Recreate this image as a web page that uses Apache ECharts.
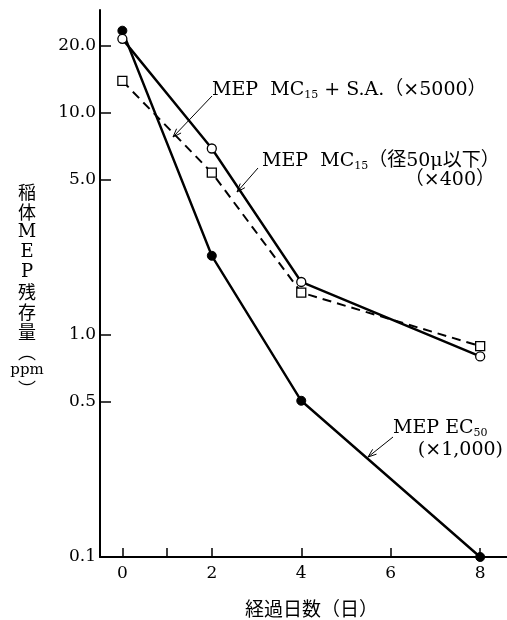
<!DOCTYPE html>
<html>
<head>
<meta charset="utf-8">
<script src="https://cdn.jsdelivr.net/npm/echarts@6/dist/echarts.min.js"></script>
<style>
  html, body { margin: 0; padding: 0; background: #fff; }
  #chart { width: 507px; height: 620px; }
</style>
</head>
<body>
<div id="chart"></div>
<script>
// days after treatment
var days = [0, 2, 4, 8];
// MEP EC50 (x1,000) - filled circles
var ec50 = [23.4, 2.27, 0.505, 0.1];
// MEP MC15 (径50μ以下) (x400) - open circles
var mc15Fine = [21.5, 6.9, 1.73, 0.8];
// MEP MC15 + S.A. (x5000) - open squares, dashed
var mc15SA = [13.9, 5.37, 1.55, 0.89];

var yTicks = [0.1, 0.5, 1, 5, 10, 20];
var xTicks = [0, 2, 4, 6, 8];
var xMinorTicks = [0, 1, 2, 4, 6, 8];

var serif = '"DejaVu Serif", "Liberation Serif", "Noto Sans CJK JP", serif';

function pairs(xs, ys) {
  return xs.map(function (x, i) { return [x, ys[i]]; });
}

// arrow with an open V head, drawn from (x1,y1) to (x2,y2)
function arrow(x1, y1, x2, y2) {
  var ang = Math.atan2(y2 - y1, x2 - x1);
  var len = 9, spread = 0.35;
  var a1 = [x2 - len * Math.cos(ang - spread), y2 - len * Math.sin(ang - spread)];
  var a2 = [x2 - len * Math.cos(ang + spread), y2 - len * Math.sin(ang + spread)];
  return [
    { type: 'line', shape: { x1: x1, y1: y1, x2: x2, y2: y2 }, style: { stroke: '#000', lineWidth: 1 } },
    { type: 'polyline', shape: { points: [a1, [x2, y2], a2] }, style: { stroke: '#000', lineWidth: 1, fill: null } }
  ];
}

var rich = {
  a: { fontFamily: serif, fontSize: 19, color: '#000' },
  s: { fontFamily: serif, fontSize: 11, color: '#000', padding: [9, 0, 0, 0] }
};

var titleRich = {
  c: { fontFamily: '"Noto Sans CJK JP"', fontSize: 18, lineHeight: 20, color: '#000' },
  l: { fontFamily: serif, fontSize: 18, lineHeight: 20, color: '#000' },
  p: { fontFamily: serif, fontSize: 15, lineHeight: 17, color: '#000' }
};

var chart = echarts.init(document.getElementById('chart'));

chart.setOption({
  animation: false,
  grid: { left: 100, right: 0, top: 10, bottom: 63 },
  xAxis: {
    type: 'value',
    min: -0.5,
    max: 8.6,
    axisLine: { show: true, onZero: false, lineStyle: { color: '#000', width: 2 } },
    axisTick: { show: true, inside: true, length: 9, customValues: xMinorTicks, lineStyle: { color: '#000', width: 1.5 } },
    axisLabel: { customValues: xTicks, color: '#000', fontFamily: serif, fontSize: 17, margin: 8 },
    splitLine: { show: false }
  },
  yAxis: {
    type: 'log',
    logBase: 10,
    min: 0.1,
    max: 29,
    axisLine: { show: true, onZero: false, lineStyle: { color: '#000', width: 2 } },
    axisTick: { show: true, inside: true, length: 11, customValues: yTicks, lineStyle: { color: '#000', width: 1.5 } },
    axisLabel: {
      customValues: yTicks,
      color: '#000',
      fontFamily: serif,
      fontSize: 17,
      margin: 4,
      formatter: function (v) { return v < 1 ? String(v) : v.toFixed(1); }
    },
    splitLine: { show: false }
  },
  series: [
    {
      name: 'MEP EC50',
      type: 'line',
      data: pairs(days, ec50),
      symbol: 'circle',
      symbolSize: 9,
      lineStyle: { color: '#000', width: 2.4 },
      itemStyle: { color: '#000', borderColor: '#000' },
      z: 3
    },
    {
      name: 'MEP MC15 (径50μ以下)',
      type: 'line',
      data: pairs(days, mc15Fine),
      symbol: 'circle',
      symbolSize: 9,
      lineStyle: { color: '#000', width: 2.4 },
      itemStyle: { color: '#fff', borderColor: '#000', borderWidth: 1.3 },
      z: 4
    },
    {
      name: 'MEP MC15 + S.A.',
      type: 'line',
      data: pairs(days, mc15SA),
      symbol: 'rect',
      symbolSize: 9,
      lineStyle: { color: '#000', width: 2, type: [9, 6] },
      itemStyle: { color: '#fff', borderColor: '#000', borderWidth: 1.3 },
      z: 4
    }
  ],
  graphic: [
    {
      type: 'text', left: 212, top: 81,
      style: { rich: rich, text: '{a|MEP  MC}{s|15}{a| + S.A.（×5000）}' }
    },
    {
      type: 'text', left: 262, top: 152,
      style: { rich: rich, text: '{a|MEP  MC}{s|15}{a|（径50μ以下）}' }
    },
    {
      type: 'text', right: 12, top: 171,
      style: { rich: rich, text: '{a|（×400）}' }
    },
    {
      type: 'text', left: 393, top: 419,
      style: { rich: rich, text: '{a|MEP EC}{s|50}' }
    },
    {
      type: 'text', right: 4, top: 441,
      style: { rich: rich, text: '{a|(×1,000)}' }
    },
    {
      type: 'text', left: 245, top: 599,
      style: { text: '経過日数（日）', font: '19px "Noto Sans CJK JP"', fill: '#000' }
    },
    {
      type: 'text', x: 27, y: 182,
      style: {
        rich: titleRich,
        align: 'center',
        text: '{c|稲}\n{c|体}\n{l|M}\n{l|E}\n{l|P}\n{c|残}\n{c|存}\n{c|量}\n{c|︵}\n{p|ppm}\n{c|︶}'
      }
    }
  ].concat(arrow(212, 96, 173, 137), arrow(258, 168, 237, 192), arrow(393, 437, 368, 457))
});
</script>
</body>
</html>
